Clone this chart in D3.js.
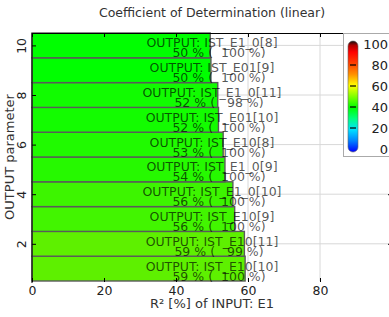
<!DOCTYPE html>
<meta charset="utf-8">
<script src="https://d3js.org/d3.v7.min.js"></script>
<style>
  body { margin: 0; background: #fff; }
  text { font-family: "DejaVu Sans", sans-serif; }
</style>
<div id="chart"></div>
<script>
// values, bottom (param 1) to top (param 10)
const params = [1, 2, 3, 4, 5, 6, 7, 8, 9, 10];
const outputs = ["OUTPUT: IST_E10[10]", "OUTPUT: IST_E10[11]", "OUTPUT: IST_E10[9]", "OUTPUT: IST_E1_0[10]",
  "OUTPUT: IST_E1_0[9]", "OUTPUT: IST_E10[8]", "OUTPUT: IST_E01[10]", "OUTPUT: IST_E1_0[11]",
  "OUTPUT: IST_E01[9]", "OUTPUT: IST_E1_0[8]"];
const r2 = [59.2, 59.0, 56.3, 55.8, 53.6, 53.1, 51.8, 51.6, 49.7, 49.5];
const total = [100, 99, 100, 100, 100, 100, 100, 98, 100, 100];
const xTicks = [0, 20, 40, 60, 80];
const yTicks = [2, 4, 6, 8, 10];
const cbTicks = [0, 20, 40, 60, 80, 100];

const W = 389, H = 317;
const margin = {top: 33, right: -3, bottom: 36, left: 32};

const svg = d3.select("#chart").append("svg")
  .attr("width", W).attr("height", H);

const x = d3.scaleLinear().domain([0, 100]).range([margin.left, W - margin.right]);
const y = d3.scaleLinear().domain([0.5, 10.5]).range([H - margin.bottom, margin.top]);
const barColor = d3.scaleLinear().domain([50, 59]).range(["#00ff00", "#5ef000"]).clamp(true);

// grid
svg.append("g").selectAll("line").data(xTicks.slice(1)).join("line")
  .attr("x1", d => x(d)).attr("x2", d => x(d))
  .attr("y1", y(10.5)).attr("y2", y(0.5))
  .attr("stroke", "#d8d8d8");
svg.append("g").selectAll("line").data(yTicks).join("line")
  .attr("x1", x(0)).attr("x2", x(100))
  .attr("y1", d => y(d)).attr("y2", d => y(d))
  .attr("stroke", "#d8d8d8");

// bars
const band = Math.abs(y(1) - y(0));
svg.append("g").selectAll("rect").data(params).join("rect")
  .attr("x", x(0))
  .attr("y", (d) => y(d + 0.5))
  .attr("width", (d, i) => x(r2[i]) - x(0))
  .attr("height", band)
  .attr("fill", (d, i) => barColor(r2[i]))
  .attr("stroke", "#5a5a5a")
  .attr("stroke-width", 1.4);

// axes
svg.append("g")
  .attr("transform", `translate(0,${y(0.5) + 1})`)
  .call(d3.axisBottom(x).tickValues(xTicks).tickSizeInner(-4).tickSizeOuter(0).tickPadding(4))
  .call(g => g.select(".domain").remove())
  .call(g => g.selectAll("text").attr("font-size", 12.5).attr("fill", "#222").attr("font-family", "DejaVu Sans"));

svg.append("g")
  .attr("transform", `translate(0,${y(10.5)})`)
  .call(d3.axisTop(x).tickValues(xTicks).tickSizeInner(-4).tickSizeOuter(0).tickFormat(""))
  .call(g => g.select(".domain").attr("stroke", "#000"));

svg.append("g")
  .attr("transform", `translate(${x(0)},0)`)
  .call(d3.axisLeft(y).tickValues(yTicks).tickSizeInner(-4).tickSizeOuter(0).tickPadding(6))
  .call(g => g.select(".domain").attr("d", `M0,${y(10.5)}V${y(0.5) + 2}`))
  .call(g => g.selectAll(".tick text")
    .attr("font-size", 12.5).attr("fill", "#222").attr("font-family", "DejaVu Sans")
    .attr("text-anchor", "middle").attr("dy", null).attr("x", null)
    .attr("transform", "translate(-11,0) rotate(-90)")
    .attr("dominant-baseline", "central"));

svg.append("g")
  .attr("transform", `translate(${x(100)},0)`)
  .call(d3.axisRight(y).tickValues(yTicks).tickSizeInner(-4).tickSizeOuter(0).tickFormat(""));

// bar labels
const lab = svg.append("g")
  .attr("font-size", 12.5)
  .attr("fill", "#000").attr("fill-opacity", 0.68)
  .attr("text-anchor", "middle");
lab.selectAll(".l1").data(params).join("text")
  .attr("class", "l1")
  .attr("x", x(50))
  .attr("y", d => y(d) + 2)
  .text((d, i) => outputs[i]);
lab.selectAll(".l2").data(params).join("text")
  .attr("class", "l2")
  .attr("x", x(50) + 7)
  .attr("y", d => y(d) + 12)
  .style("white-space", "pre")
  .text((d, i) => `${Math.round(r2[i])} % (${String(total[i]).padStart(5, " ")} %)`);

// titles
svg.append("text")
  .attr("x", x(50)).attr("y", 17)
  .attr("text-anchor", "middle").attr("font-size", 12.5).attr("fill", "#333")
  .text("Coefficient of Determination (linear)");
svg.append("text")
  .attr("x", x(50)).attr("y", 308)
  .attr("text-anchor", "middle").attr("font-size", 13).attr("fill", "#333")
  .text("R² [%] of INPUT: E1");
svg.append("text")
  .attr("transform", `translate(14,${(y(0.5) + y(10.5)) / 2}) rotate(-90)`)
  .attr("text-anchor", "middle").attr("font-size", 13).attr("fill", "#333")
  .text("OUTPUT parameter");

// colour bar legend
const cb = svg.append("g");
cb.append("rect").attr("x", 343.5).attr("y", 33.5).attr("width", 60).attr("height", 123)
  .attr("fill", "#fff").attr("stroke", "#aaa");
const defs = svg.append("defs");
const grad = defs.append("linearGradient").attr("id", "jet")
  .attr("x1", 0).attr("y1", 1).attr("x2", 0).attr("y2", 0);
const stops = [[0, "#0000ff"], [0.1, "#0080ff"], [0.2, "#00e0ff"], [0.3, "#00ff80"], [0.4, "#00ff00"],
  [0.5, "#80ff00"], [0.6, "#ffff00"], [0.7, "#ff9000"], [0.8, "#ff4000"], [0.9, "#ff0000"], [0.96, "#b00000"], [1, "#101010"]];
grad.selectAll("stop").data(stops).join("stop")
  .attr("offset", d => d[0]).attr("stop-color", d => d[1]);
const cy = d3.scaleLinear().domain([0, 100]).range([149, 44]);
cb.append("rect").attr("x", 348).attr("y", cy(100) - 3).attr("width", 10).attr("height", cy(0) - cy(100) + 6)
  .attr("rx", 5).attr("fill", "url(#jet)").attr("stroke", "#666").attr("stroke-width", 0.6);
cb.append("g")
  .attr("transform", "translate(356,0)")
  .call(d3.axisRight(cy).tickValues(cbTicks).tickSize(0).tickPadding(32))
  .call(g => g.select(".domain").remove())
  .call(g => g.selectAll("text").attr("text-anchor", "end").attr("font-size", 13)
    .attr("fill", "#222").attr("font-family", "DejaVu Sans"));
cb.append("g").selectAll("line").data(cbTicks.slice(1, 5)).join("line")
  .attr("x1", 350).attr("x2", 356)
  .attr("y1", d => cy(d)).attr("y2", d => cy(d))
  .attr("stroke", "#000").attr("stroke-width", 1.2);
</script>
